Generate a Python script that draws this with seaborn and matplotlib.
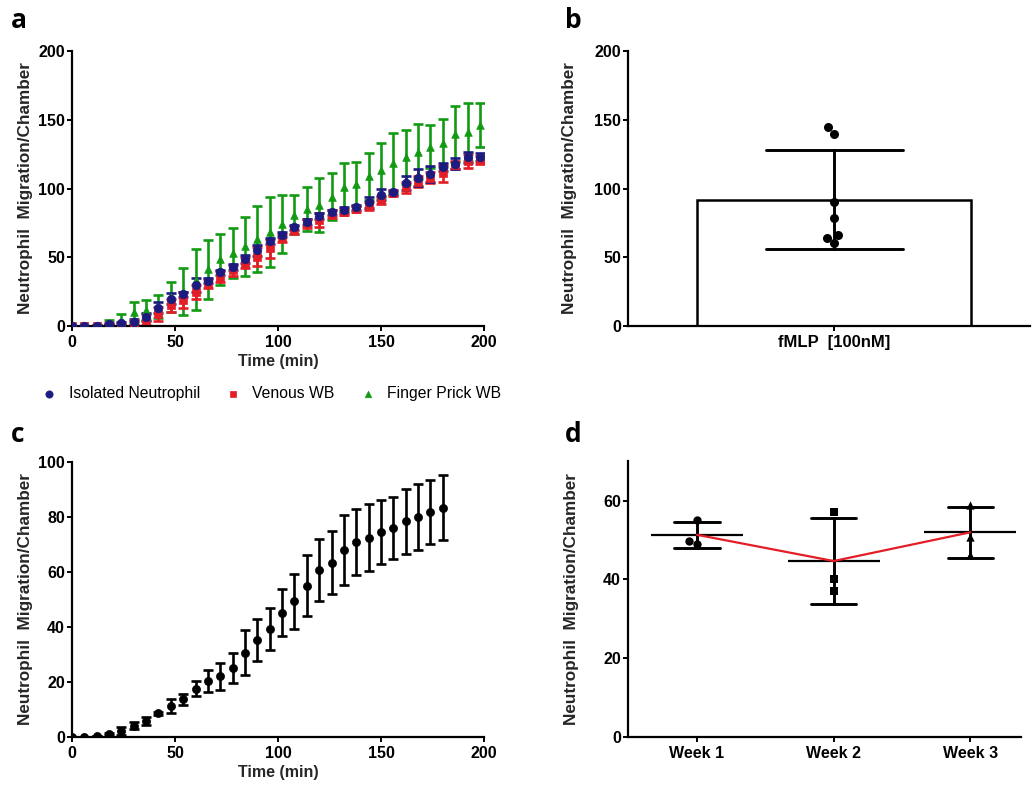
import numpy as np
import pandas as pd
import matplotlib
matplotlib.use("Agg")
import matplotlib.pyplot as plt
import seaborn as sns


# =========================
# DATA
# =========================

TIME_A = [0, 6, 12, 18, 24, 30, 36, 42, 48, 54, 60, 66, 72, 78, 84, 90, 96,
          102, 108, 114, 120, 126, 132, 138, 144, 150, 156, 162, 168, 174,
          180, 186, 192, 198]

ISO_MEAN = [0, 0, 0, 1.5, 2, 3, 6.8, 13.3, 20, 23, 30, 33, 39, 43, 48.8, 55,
            62, 66.4, 71.7, 75.8, 80, 82.6, 84.3, 86.3, 90, 95.6, 97.2, 104,
            108, 110.5, 115.6, 118, 122.6, 123]
ISO_ERR = [0, 0, 0.5, 1, 1, 2, 3, 4, 4, 2, 5, 2, 2, 2, 3, 4, 2, 2, 2, 2, 2,
           2, 2, 2, 4, 4, 2, 5, 6, 6, 3, 4, 4, 3]

VEN_MEAN = [0, 0, 0, 0.5, 1, 2, 4.4, 9, 15, 19, 25, 31, 36, 40.6, 46, 50.4,
            56.5, 63.8, 70, 74.6, 77, 81.4, 83, 85, 87.3, 91.6, 96.5, 101,
            105, 108, 111, 117, 120, 121]
VEN_ERR = [0, 0, 0.5, 1, 1, 1.5, 4, 5, 5, 6, 5, 3, 4, 4, 4, 7, 7, 3, 3, 3, 5,
           3, 2, 2, 3, 3, 2, 4, 4, 4, 6, 3, 5, 3]

FP_MEAN = [0, 0, 0.3, 2.5, 3, 10.4, 11.6, 14, 21, 25, 33.8, 41.2, 48.5, 53.2,
           58, 63.2, 68.3, 74, 81, 85, 88.3, 94, 101.4, 103.2, 108.8, 113.4,
           118.5, 123, 126.7, 130.5, 133.3, 139.7, 141.2, 146.2]
FP_ERR = [0, 0, 0.5, 2, 6, 7.3, 7.4, 8.5, 11, 17, 22.2, 21.2, 18.5, 18.2,
          21.5, 24.2, 25.7, 21.2, 14.2, 15.9, 19.7, 17, 17.4, 16.1, 16.8,
          19.4, 22, 19.5, 20.1, 15.9, 17.4, 20.3, 21.2, 15.8]

FMLP_LABEL = "fMLP  [100nM]"
FMLP_VALUES = [145, 140, 90.4, 78.3, 66, 64.2, 60.1]

TIME_C = [0, 6, 12, 18, 24, 30, 36, 42, 48, 54, 60, 66, 72, 78, 84, 90, 96,
          102, 108, 114, 120, 126, 132, 138, 144, 150, 156, 162, 168, 174, 180]
C_MEAN = [0, 0, 0.3, 0.9, 2.2, 4, 5.7, 8.5, 11.2, 13.6, 17.5, 20.2, 22, 25.1,
          30.5, 35.2, 39.2, 45.2, 49.3, 55, 60.6, 63.4, 67.9, 70.9, 72.5,
          74.4, 76.1, 78.4, 80, 81.8, 83.4]
C_ERR = [0, 0, 0, 0.3, 1.5, 1.2, 1.5, 0.5, 2.7, 2, 2.7, 4, 5, 5.5, 8.2, 7.5,
         7.5, 8.5, 10, 11, 11.3, 11.6, 12.7, 11.9, 12.2, 11.6, 11.3, 11.9,
         11.9, 11.8, 11.8]

WEEKS = ["Week 1", "Week 2", "Week 3"]
WEEK_VALUES = {
    "Week 1": [55.1, 49.0, 49.8],
    "Week 2": [57.0, 40.0, 36.9],
    "Week 3": [58.9, 50.7, 46.2],
}
WEEK_MARKERS = ["o", "s", "^"]

BLUE = "#1c1c80"
RED = "#e41e26"
GREEN = "#139a13"
OUTPUT_FILE = "out.png"


# =========================
# STYLE
# =========================

sns.set_theme(style="ticks")
plt.rcParams["font.family"] = ["Liberation Sans", "DejaVu Sans"]
plt.rcParams["font.weight"] = "bold"
plt.rcParams["axes.labelweight"] = "bold"
plt.rcParams["axes.linewidth"] = 1.6
plt.rcParams["xtick.major.width"] = 1.4
plt.rcParams["ytick.major.width"] = 1.4
plt.rcParams["xtick.major.size"] = 3.5
plt.rcParams["ytick.major.size"] = 3.5
plt.rcParams["xtick.labelsize"] = 11.5
plt.rcParams["ytick.labelsize"] = 11.5
plt.rcParams["xtick.color"] = "black"
plt.rcParams["ytick.color"] = "black"
plt.rcParams["axes.edgecolor"] = "black"
plt.rcParams["text.color"] = "black"

YLABEL = "Neutrophil  Migration/Chamber"
YLABEL_SIZE = 12.3

fig = plt.figure(figsize=(10.34, 7.85), dpi=100)
ax_a = fig.add_axes([0.0696, 0.5847, 0.3985, 0.3503])
ax_b = fig.add_axes([0.6074, 0.5847, 0.3888, 0.3503])
ax_c = fig.add_axes([0.0696, 0.0615, 0.3985, 0.3500])
ax_d = fig.add_axes([0.6074, 0.0615, 0.3800, 0.3510])


def style_axes(ax):
    sns.despine(ax=ax)
    ax.tick_params(axis="y", pad=1.5)
    ax.tick_params(axis="x", pad=3)
    for lab in ax.get_xticklabels() + ax.get_yticklabels():
        lab.set_fontweight("bold")


# =========================
# PANEL A
# =========================

series_a = [
    ("Finger Prick WB", FP_MEAN, FP_ERR, GREEN, "^", 30),
    ("Venous WB", VEN_MEAN, VEN_ERR, RED, "s", 26),
    ("Isolated Neutrophil", ISO_MEAN, ISO_ERR, BLUE, "o", 38),
]
for name, mean, err, col, mk, sz in series_a:
    ax_a.errorbar(TIME_A, mean, yerr=err, fmt="none", ecolor=col,
                  elinewidth=1.9, capsize=3.4, capthick=1.9, zorder=2)
    sns.scatterplot(x=TIME_A, y=mean, ax=ax_a, color=col, marker=mk, s=sz,
                    edgecolor=col, linewidth=0.5, zorder=3, label=name)

ax_a.set_xlim(0, 200)
ax_a.set_ylim(0, 200)
ax_a.set_xticks([0, 50, 100, 150, 200])
ax_a.set_yticks([0, 50, 100, 150, 200])
ax_a.set_xlabel("Time (min)", fontsize=11.5, labelpad=3)
ax_a.set_ylabel(YLABEL, fontsize=YLABEL_SIZE)
ax_a.yaxis.set_label_coords(-0.095, 0.5)
style_axes(ax_a)

handles, labels = ax_a.get_legend_handles_labels()
order = [labels.index(n) for n in
         ["Isolated Neutrophil", "Venous WB", "Finger Prick WB"]]
leg = ax_a.legend([handles[i] for i in order], [labels[i] for i in order],
                  loc="center left", bbox_to_anchor=(-0.128, -0.245),
                  ncol=3, frameon=False, handletextpad=0.25,
                  columnspacing=1.1, markerscale=0.85,
                  prop={"family": "Liberation Sans", "size": 11.3,
                        "weight": "normal"})


# =========================
# PANEL B
# =========================

df_b = pd.DataFrame({"cond": FMLP_LABEL, "val": FMLP_VALUES})
sns.barplot(data=df_b, x="cond", y="val", ax=ax_b, errorbar="sd",
            capsize=0.5, width=1.0, color="white", edgecolor="black",
            linewidth=1.8, err_kws={"color": "black", "linewidth": 2.1})
sns.swarmplot(data=df_b, x="cond", y="val", ax=ax_b, color="black", size=6.5)
ax_b.set_xlim(-0.752, 0.715)
ax_b.set_ylim(0, 200)
ax_b.set_yticks([0, 50, 100, 150, 200])
ax_b.set_xlabel("")
ax_b.set_ylabel(YLABEL, fontsize=YLABEL_SIZE)
ax_b.yaxis.set_label_coords(-0.128, 0.5)
style_axes(ax_b)
for lab in ax_b.get_xticklabels():
    lab.set_fontsize(12)


# =========================
# PANEL C
# =========================

ax_c.errorbar(TIME_C, C_MEAN, yerr=C_ERR, fmt="none", ecolor="black",
              elinewidth=1.9, capsize=3.8, capthick=1.9, zorder=2)
sns.scatterplot(x=TIME_C, y=C_MEAN, ax=ax_c, color="black", marker="o",
                s=34, edgecolor="black", linewidth=0.5, zorder=3)
ax_c.set_xlim(0, 200)
ax_c.set_ylim(0, 100)
ax_c.set_xticks([0, 50, 100, 150, 200])
ax_c.set_yticks([0, 20, 40, 60, 80, 100])
ax_c.set_xlabel("Time (min)", fontsize=11.5, labelpad=3)
ax_c.set_ylabel(YLABEL, fontsize=YLABEL_SIZE)
ax_c.yaxis.set_label_coords(-0.095, 0.5)
style_axes(ax_c)


# =========================
# PANEL D
# =========================

df_d = pd.DataFrame(
    [(w, v) for w in WEEKS for v in WEEK_VALUES[w]], columns=["week", "val"]
)
sns.pointplot(data=df_d, x="week", y="val", order=WEEKS, ax=ax_d,
              errorbar="sd", capsize=0.33, color="black", linestyle="none",
              marker="_", markersize=66, markeredgewidth=1.6,
              err_kws={"linewidth": 2.1})
sns.pointplot(data=df_d, x="week", y="val", order=WEEKS, ax=ax_d,
              errorbar=None, color=RED, marker="", linewidth=1.6)
for w, mk in zip(WEEKS, WEEK_MARKERS):
    sns.swarmplot(data=df_d[df_d["week"] == w], x="week", y="val",
                  order=WEEKS, ax=ax_d, color="black", marker=mk, size=6)
ax_d.set_xlim(-0.504, 2.37)
ax_d.set_ylim(0, 70)
ax_d.set_yticks([0, 20, 40, 60])
ax_d.set_xlabel("")
ax_d.set_ylabel(YLABEL, fontsize=YLABEL_SIZE)
ax_d.yaxis.set_label_coords(-0.125, 0.5)
style_axes(ax_d)


# =========================
# PANEL LETTERS
# =========================

for letter, x, y in [("a", 11, 20), ("b", 565, 20), ("c", 11, 435), ("d", 565, 435)]:
    fig.text(x / 1034, 1 - y / 785, letter, fontsize=19, fontweight="bold",
             family=["Open Sans", "DejaVu Sans"], va="center", ha="left")

fig.savefig(OUTPUT_FILE, dpi=100)
